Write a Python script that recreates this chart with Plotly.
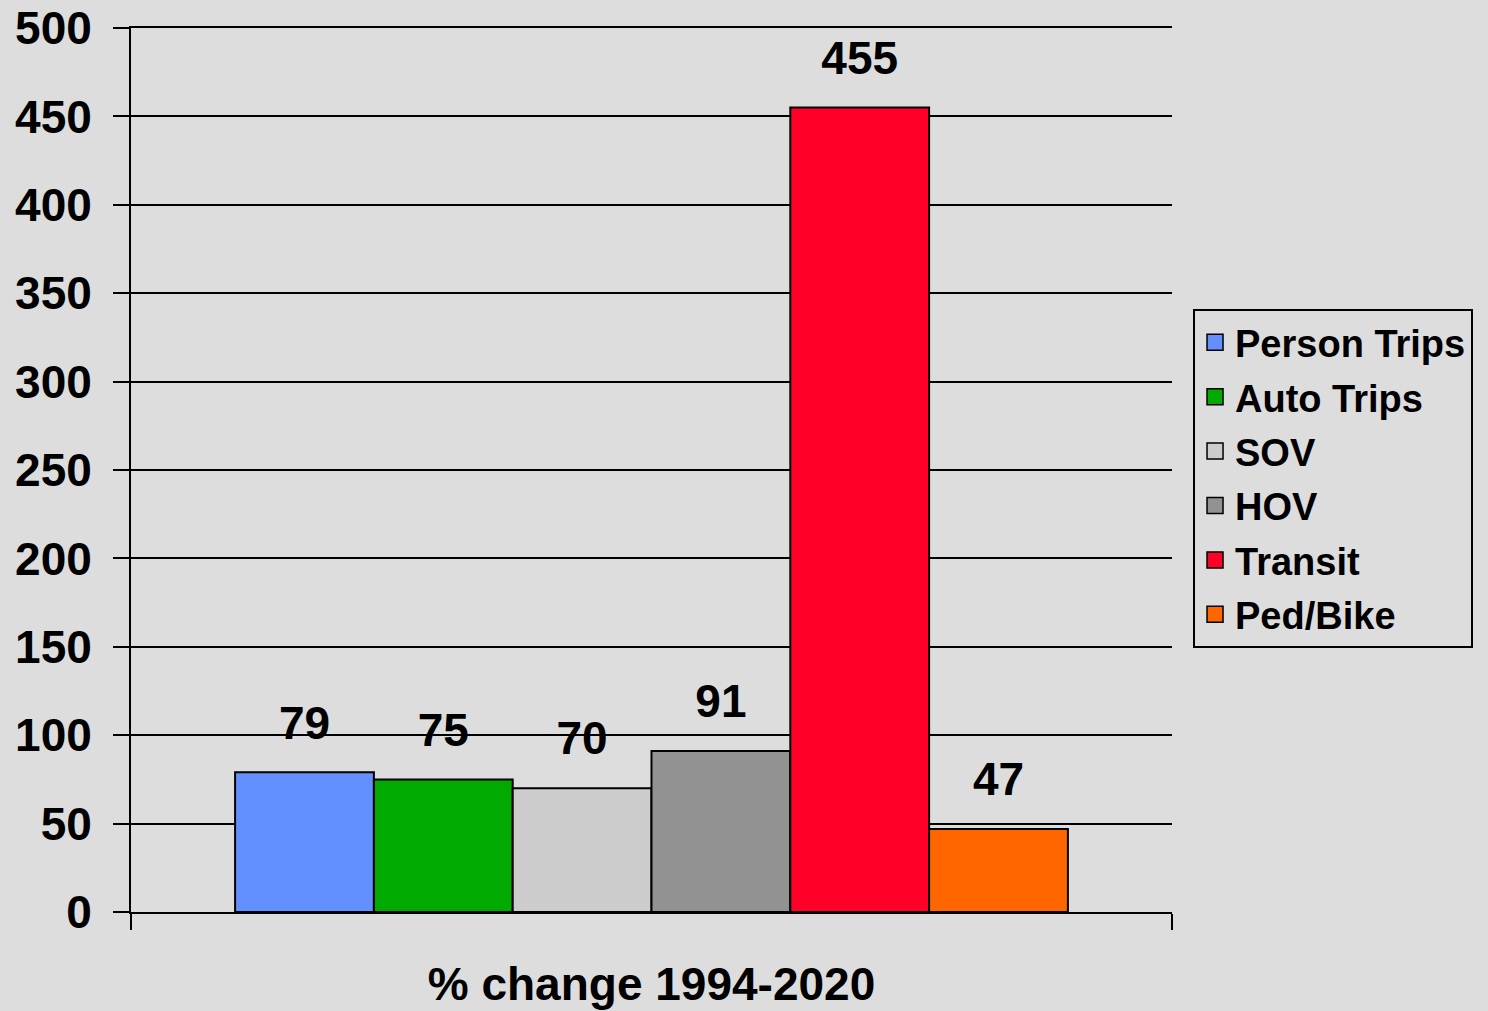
import plotly.graph_objects as go

category = ["% change 1994-2020"]
series = ["Person Trips", "Auto Trips", "SOV", "HOV", "Transit", "Ped/Bike"]
values = [79, 75, 70, 91, 455, 47]
colors = ["#6490FF", "#00AA00", "#CCCCCC", "#929292", "#FF0028", "#FF6600"]
y_ticks = list(range(0, 501, 50))

FONT = "Liberation Sans, Arial, sans-serif"
BG = "#DDDDDD"

fig = go.Figure()

for name, val, col in zip(series, values, colors):
    fig.add_trace(go.Bar(
        x=category, y=[val], name=name, offsetgroup=name, showlegend=False,
        marker=dict(color=col, line=dict(color="black", width=2)),
        hoverinfo="skip",
    ))

# value labels sitting above each bar
for name, val in zip(series, values):
    fig.add_trace(go.Scatter(
        x=category, y=[val], mode="markers+text", offsetgroup=name,
        text=[str(val)], textposition="top center",
        textfont=dict(family=FONT, size=46, color="black", weight="bold"),
        marker=dict(size=34, opacity=0), showlegend=False, hoverinfo="skip",
    ))

# legend entries with larger square swatches
for name, col in zip(series, colors):
    fig.add_trace(go.Scatter(
        x=[None], y=[None], mode="markers", name=name, offsetgroup=name,
        legendgroup=name,
        marker=dict(symbol="square", size=22, color=col, line=dict(color="black", width=1.5)),
    ))

fig.update_layout(
    width=1488, height=1011,
    margin=dict(l=131, r=316, t=28, b=99),
    paper_bgcolor=BG, plot_bgcolor=BG,
    barmode="group", bargap=0.2, bargroupgap=0,
    scattermode="group",
    font=dict(family=FONT, size=46, color="black", weight="bold"),
    legend=dict(
        x=1.0202, xanchor="left", y=0.682, yanchor="top",
        bgcolor=BG, bordercolor="black", borderwidth=2,
        font=dict(family=FONT, size=38, color="black", weight="bold"),
        tracegroupgap=2,
    ),
    xaxis=dict(
        showline=True, linecolor="black", linewidth=2, mirror=True,
        ticks="outside", tickson="boundaries", ticklen=16, tickwidth=2, tickcolor="black",
        showgrid=False, ticklabelstandoff=31, automargin=False,
        tickfont=dict(family=FONT, size=46, color="black", weight="bold"),
    ),
    yaxis=dict(
        range=[0, 500], tickvals=y_ticks,
        showline=True, linecolor="black", linewidth=2,
        showgrid=True, gridcolor="black", gridwidth=2,
        ticks="outside", ticklen=16, tickwidth=2, tickcolor="black",
        ticklabelstandoff=12, zeroline=False, automargin=False,
        tickfont=dict(family=FONT, size=46, color="black", weight="bold"),
    ),
)

fig.write_html("out.html", config={"displayModeBar": False},
               post_script="document.body.style.margin='0';")
